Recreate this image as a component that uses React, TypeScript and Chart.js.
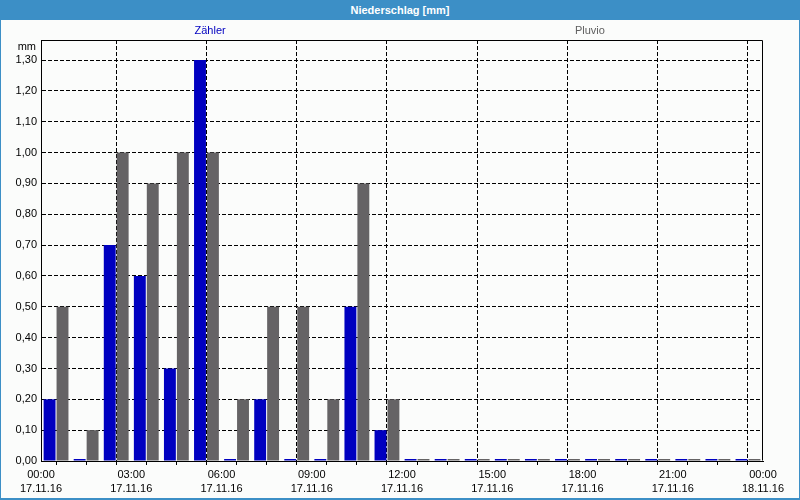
import React, { useEffect, useRef } from "react";
import { Chart, registerables } from "chart.js";

Chart.register(...registerables);

// Hour slots of 17.11.16 (start hour of each hourly sum)
const hourSlots = [0, 1, 2, 3, 4, 5, 6, 7, 8, 9, 10, 11, 12, 13, 14, 15, 16, 17, 18, 19, 20, 21, 22, 23];
const zaehlerValues = [0.2, 0, 0.7, 0.6, 0.3, 1.3, 0, 0.2, 0, 0, 0.5, 0.1, 0, 0, 0, 0, 0, 0, 0, 0, 0, 0, 0, 0];
const pluvioValues = [0.5, 0.1, 1.0, 0.9, 1.0, 1.0, 0.2, 0.5, 0.5, 0.2, 0.9, 0.2, 0, 0, 0, 0, 0, 0, 0, 0, 0, 0, 0, 0];
const seriesNames = ["Zähler", "Pluvio"];
const xTickTimes = ["00:00", "03:00", "06:00", "09:00", "12:00", "15:00", "18:00", "21:00", "00:00"];
const xTickDates = ["17.11.16", "17.11.16", "17.11.16", "17.11.16", "17.11.16", "17.11.16", "17.11.16", "17.11.16", "18.11.16"];
const yTickValues = [0, 0.1, 0.2, 0.3, 0.4, 0.5, 0.6, 0.7, 0.8, 0.9, 1.0, 1.1, 1.2, 1.3];
const titleText = "Niederschlag [mm]";
const unitText = "mm";

const BLUE = "#0000c0";
const GRAY = "#656365";
const FONT = "'Liberation Sans', Arial, sans-serif";

const framePlugin = {
  id: "frame",
  afterDraw(chart: any) {
    const { ctx, chartArea } = chart;
    const l = Math.round(chartArea.left) + 0.5;
    const t = Math.round(chartArea.top) + 0.5;
    const r = Math.round(chartArea.right) - 0.5;
    const b = Math.round(chartArea.bottom) - 0.5;
    ctx.save();
    ctx.strokeStyle = "#000";
    ctx.lineWidth = 1;
    ctx.setLineDash([]);
    ctx.beginPath();
    ctx.moveTo(l, t);
    ctx.lineTo(r, t);
    ctx.lineTo(r, b);
    ctx.stroke();
    // unit label
    ctx.font = `11px ${FONT}`;
    ctx.fillStyle = "#000";
    ctx.textAlign = "right";
    ctx.textBaseline = "middle";
    ctx.fillText(unitText, chartArea.left - 5, chartArea.top + 7);
    // legend labels
    ctx.textAlign = "center";
    const ds = chart.data.datasets;
    const positions = [0.262, 0.738];
    ds.forEach((d: any, i: number) => {
      ctx.fillStyle = i === 0 ? BLUE : "#606060";
      ctx.fillText(d.label, chart.width * positions[i], 11);
    });
    ctx.restore();
  },
};

export default function App() {
  const ref = useRef<HTMLCanvasElement | null>(null);
  useEffect(() => {
    if (!ref.current) return;
    const chart = new Chart(ref.current, {
      type: "bar",
      data: {
        datasets: [
          {
            label: seriesNames[0],
            data: hourSlots.map((h, i) => ({ x: h + 0.5, y: zaehlerValues[i] })),
            backgroundColor: BLUE,
            borderWidth: 0,
            minBarLength: 2,
            categoryPercentage: 0.86,
            barPercentage: 0.92,
          },
          {
            label: seriesNames[1],
            data: hourSlots.map((h, i) => ({ x: h + 0.5, y: pluvioValues[i] })),
            backgroundColor: GRAY,
            borderWidth: 0,
            minBarLength: 2,
            categoryPercentage: 0.86,
            barPercentage: 0.92,
          },
        ],
      },
      options: {
        animation: false,
        responsive: false,
        maintainAspectRatio: false,
        layout: { padding: { left: 0, right: 36, top: 20, bottom: 0 } },
        plugins: { legend: { display: false }, tooltip: { enabled: false }, title: { display: false } },
        scales: {
          x: {
            type: "linear",
            min: 0,
            max: 24,
            offset: false,
            afterBuildTicks: (scale: any) => {
              scale.ticks = Array.from({ length: 25 }, (_, i) => ({ value: i }));
            },
            afterFit: (scale: any) => {
              scale.height = 37;
            },
            ticks: {
              autoSkip: false,
              maxRotation: 0,
              minRotation: 0,
              padding: 3,
              color: "#000",
              font: { family: FONT, size: 11, lineHeight: "14px" },
              callback: (value: any) => {
                const v = Number(value);
                if (v % 3 !== 0) return "";
                return [xTickTimes[v / 3], xTickDates[v / 3]];
              },
            },
            grid: {
              color: (c: any) => (c.tick && c.tick.value % 3 === 0 ? "#000" : "rgba(0,0,0,0)"),
              tickColor: "#000",
              tickLength: 4,
              lineWidth: 1,
              drawTicks: true,
            },
            border: { display: true, color: "#000", width: 1, dash: [4, 2] },
          },
          y: {
            type: "linear",
            min: 0,
            max: 1.365,
            afterBuildTicks: (scale: any) => {
              scale.ticks = yTickValues.map((v) => ({ value: v }));
            },
            afterFit: (scale: any) => {
              scale.width = 40;
            },
            ticks: {
              padding: 4,
              color: "#000",
              font: { family: FONT, size: 11 },
              callback: (value: any) => Number(value).toFixed(2).replace(".", ","),
            },
            grid: {
              color: "#000",
              lineWidth: 1,
              drawTicks: false,
            },
            border: { display: true, color: "#000", width: 1, dash: [4, 2] },
          },
        },
      },
      plugins: [framePlugin],
    });
    return () => chart.destroy();
  }, []);

  return (
    <div
      style={{
        position: "fixed",
        left: 0,
        top: 0,
        width: 800,
        height: 500,
        background: "#3c8fc6",
        overflow: "hidden",
      }}
    >
      <div
        style={{
          height: 20,
          lineHeight: "20px",
          textAlign: "center",
          color: "#fff",
          fontFamily: FONT,
          fontWeight: "bold",
          fontSize: 11,
        }}
      >
        {titleText}
      </div>
      <div
        style={{
          position: "absolute",
          left: 1,
          top: 20,
          width: 798,
          height: 478,
          background: "#fbfcfb",
        }}
      >
        <canvas ref={ref} width={798} height={478} style={{ display: "block" }} />
      </div>
    </div>
  );
}
